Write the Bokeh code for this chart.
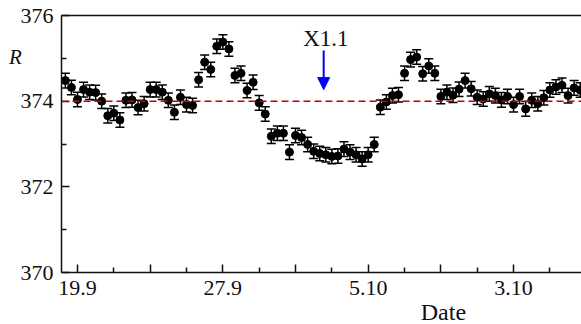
import numpy as np
from bokeh.plotting import figure
from bokeh.models import (ColumnDataSource, Whisker, TeeHead, Span, Label, Arrow,
                          NormalHead, FixedTicker, LinearAxis, Range1d)
from bokeh.embed import file_html
from bokeh.resources import INLINE

# --- data (days since 19.9, one sample every 8 hours) ---
start_day = -2.0 / 3.0
step_day = 1.0 / 3.0
R = [374.48, 374.32, 374.04, 374.27, 374.21, 374.20, 374.00, 373.66, 373.72, 373.56,
     374.02, 374.03, 373.85, 373.94, 374.27, 374.27, 374.21, 374.02, 373.74, 374.09,
     373.92, 373.90, 374.50, 374.91, 374.74, 375.28, 375.38, 375.22, 374.60, 374.65,
     374.25, 374.44, 373.96, 373.70, 373.18, 373.25, 373.25, 372.81, 373.20, 373.15,
     372.99, 372.83, 372.78, 372.75, 372.71, 372.72, 372.88, 372.81, 372.75, 372.65,
     372.75, 372.99, 373.86, 373.98, 374.13, 374.15, 374.65, 374.97, 375.03, 374.64,
     374.82, 374.65, 374.11, 374.21, 374.14, 374.28, 374.48, 374.29, 374.09, 374.05,
     374.17, 374.13, 374.03, 374.11, 373.92, 374.11, 373.82, 374.02, 373.94, 374.08,
     374.26, 374.33, 374.37, 374.13, 374.31, 374.26]
err = [0.17] * len(R)
mean_level = 374.0

major_ticks = [0, 4, 8, 12, 16, 20, 24]
minor_ticks = [2, 6, 10, 14, 18, 22, 26]
tick_labels = {0: "19.9", 4: "", 8: "27.9", 12: "", 16: "5.10", 20: "", 24: "3.10"}
y_ticks = [370, 372, 374, 376]
y_minor = [371, 373, 375]

flare_day = 13.55
flare_text = "X1.1"

t = start_day + step_day * np.arange(len(R))
Ra = np.array(R)
ea = np.array(err)
src = ColumnDataSource(dict(t=t, R=Ra, lo=Ra - ea, up=Ra + ea))

FONT = "Liberation Serif"

p = figure(width=581, height=324, output_backend="svg", toolbar_location=None,
           x_range=Range1d(-0.88, 27.74), y_range=Range1d(370, 376),
           min_border_left=61, min_border_right=0, min_border_top=15,
           min_border_bottom=52)
p.outline_line_color = None
p.xgrid.visible = False
p.ygrid.visible = False
p.background_fill_color = "white"
p.border_fill_color = "white"

for ax in (p.xaxis[0], p.yaxis[0]):
    ax.axis_line_width = 1.5
    ax.axis_line_color = "#111111"
    ax.major_tick_line_width = 1.5
    ax.minor_tick_line_width = 1.5
    ax.major_tick_line_color = "#111111"
    ax.minor_tick_line_color = "#111111"
    ax.major_tick_in = 8
    ax.major_tick_out = 0
    ax.minor_tick_in = 5
    ax.minor_tick_out = 0
    ax.major_label_text_font = FONT
    ax.major_label_text_font_size = "22px"
    ax.major_label_text_color = "#111111"

p.xaxis[0].ticker = FixedTicker(ticks=major_ticks, minor_ticks=minor_ticks)
p.xaxis[0].major_label_overrides = tick_labels
p.xaxis[0].major_label_standoff = 8
p.yaxis[0].ticker = FixedTicker(ticks=y_ticks, minor_ticks=y_minor)
p.yaxis[0].major_label_standoff = 8

top = LinearAxis(ticker=FixedTicker(ticks=[]), axis_line_width=1.5,
                 axis_line_color="#111111", major_label_text_font_size="0px",
                 major_tick_line_color=None, minor_tick_line_color=None)
p.add_layout(top, "above")

p.add_layout(Span(location=mean_level, dimension="width", line_color="#c40000",
                  line_width=1.5, line_dash="7 4"))

p.add_layout(Whisker(source=src, base="t", upper="up", lower="lo",
                     line_color="black", line_width=1.5,
                     upper_head=TeeHead(size=9, line_width=1.5, line_color="black"),
                     lower_head=TeeHead(size=9, line_width=1.5, line_color="black")))
p.scatter("t", "R", source=src, size=8, color="black")

p.add_layout(Arrow(x_start=flare_day, y_start=375.18, x_end=flare_day, y_end=374.27,
                   line_color="#0000ff", line_width=2,
                   end=NormalHead(size=12, fill_color="#0000ff", line_color="#0000ff")))
p.add_layout(Label(x=flare_day + 0.12, y=375.47, text=flare_text, text_font=FONT,
                   text_font_size="23px", text_align="center", text_baseline="middle",
                   text_color="#111111"))
p.add_layout(Label(x=-3.41, y=375.02, text="R", text_font=FONT, text_font_style="italic",
                   text_font_size="21px", text_align="center", text_baseline="middle",
                   text_color="#111111"), "left")
p.add_layout(Label(x=20.14, y=369.07, text="Date", text_font=FONT,
                   text_font_size="24px", text_align="center", text_baseline="middle",
                   text_color="#111111"), "below")

open("out.html", "w").write(file_html(p, INLINE))
